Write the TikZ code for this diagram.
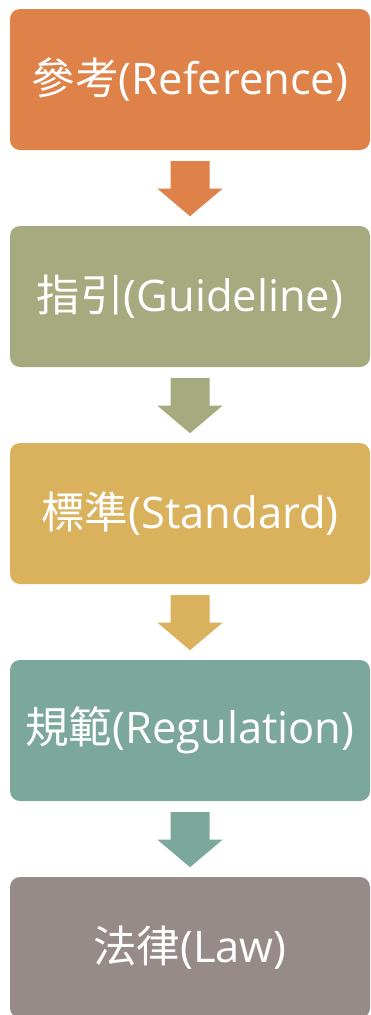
\documentclass[tikz,border=0pt]{standalone}
\usepackage{fontspec}
\setmainfont{Open Sans}
\newfontfamily\cjk{Noto Sans CJK TC}
\definecolor{cA}{RGB}{222,130,73}
\definecolor{cB}{RGB}{165,170,127}
\definecolor{cC}{RGB}{218,178,93}
\definecolor{cD}{RGB}{123,168,155}
\definecolor{cE}{RGB}{151,139,137}
\tikzset{
  stagebox/.style={draw=none, rounded corners=10pt, minimum width=360pt, minimum height=141pt,
    inner sep=0pt, text=white, font=\fontsize{43.5}{52}\selectfont},
}
\newcommand{\downarrowshape}[2]{%
  \fill[#2] ([xshift=-19.5pt,yshift=-11pt]#1.south) -- ([xshift=19.5pt,yshift=-11pt]#1.south)
    -- ([xshift=19.5pt,yshift=-38.5pt]#1.south) -- ([xshift=32.5pt,yshift=-38.5pt]#1.south)
    -- ([yshift=-66pt]#1.south) -- ([xshift=-32.5pt,yshift=-38.5pt]#1.south)
    -- ([xshift=-19.5pt,yshift=-38.5pt]#1.south) -- cycle;}
\begin{document}
\begin{tikzpicture}[x=1pt,y=-1pt]
\useasboundingbox (0,0) rectangle (371,1015);
\clip (0,0) rectangle (371,1015);
\fill[white] (0,0) rectangle (371,1015);
\node[stagebox, fill=cA] (b1) at (190,79.5) {{\cjk 參考}(Reference)};
\node[stagebox, fill=cB] (b2) at (190,296.5) {{\cjk 指引}(Guideline)};
\node[stagebox, fill=cC] (b3) at (190,513.5) {{\cjk 標準}(Standard)};
\node[stagebox, fill=cD] (b4) at (190,730.5) {{\cjk 規範}(Regulation)};
\node[stagebox, fill=cE] (b5) at (190,947.5) {{\cjk 法律}(Law)};
\downarrowshape{b1}{cA}
\downarrowshape{b2}{cB}
\downarrowshape{b3}{cC}
\downarrowshape{b4}{cD}
\end{tikzpicture}
\end{document}
